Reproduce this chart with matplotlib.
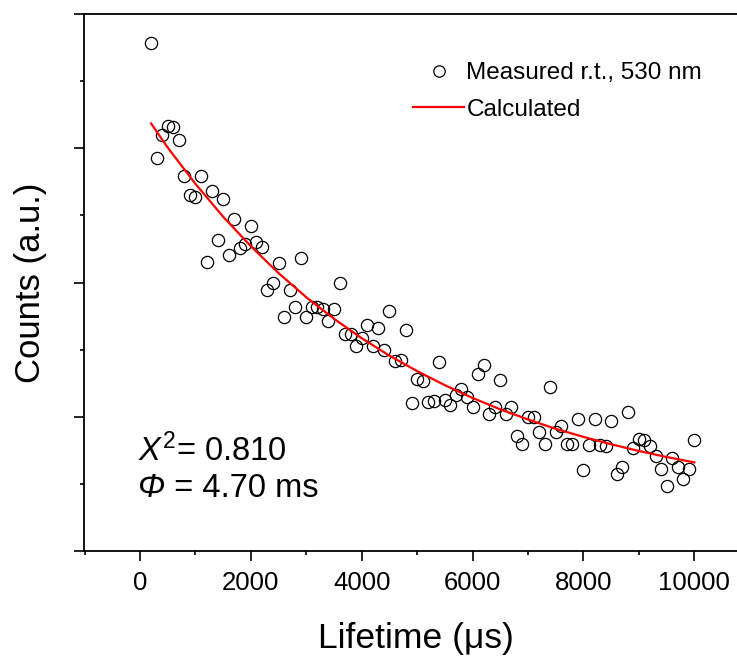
# Lifetime decay plot - measured counts vs calculated curve
# ----------------------------------------------------------------------------------------------------------------------
import matplotlib
matplotlib.use("Agg")
import matplotlib.pyplot as plt
from matplotlib.lines import Line2D
from matplotlib.ticker import MultipleLocator, NullFormatter
# ----------------------------------------------------------------------------------------------------------------------

# Measured points (x in microseconds, y in counts, a.u.)
time_us = list(range(200, 10001, 100))
counts = [
    7.57, 5.86, 6.20, 6.33, 6.32, 6.13, 5.58, 5.30, 5.28, 5.59,   # 200 - 1100
    4.30, 5.37, 4.63, 5.24, 4.41, 4.95, 4.52, 4.57, 4.84, 4.61,   # 1200 - 2100
    4.53, 3.89, 4.00, 4.29, 3.48, 3.89, 3.64, 4.37, 3.49, 3.64,   # 2200 - 3100
    3.63, 3.60, 3.43, 3.61, 3.99, 3.23, 3.23, 3.06, 3.18, 3.36,   # 3200 - 4100
    3.05, 3.32, 3.00, 3.57, 2.83, 2.84, 3.29, 2.21, 2.56, 2.53,   # 4200 - 5100
    2.22, 2.24, 2.81, 2.25, 2.18, 2.33, 2.42, 2.30, 2.15, 2.63,   # 5200 - 6100
    2.77, 2.04, 2.15, 2.55, 2.04, 2.15, 1.72, 1.60, 2.00, 1.99,   # 6200 - 7100
    1.77, 1.59, 2.45, 1.77, 1.86, 1.59, 1.60, 1.96, 1.20, 1.58,   # 7200 - 8100
    1.97, 1.58, 1.56, 1.93, 1.14, 1.25, 2.07, 1.53, 1.67, 1.65,   # 8200 - 9100
    1.57, 1.42, 1.22, 0.97, 1.39, 1.25, 1.07, 1.22, 1.65,         # 9200 - 10000
]

# Calculated curve, every 500 us
fit_time_us = [200, 500, 1000, 1500, 2000, 2500, 3000, 3500, 4000, 4500, 5000,
               5500, 6000, 6500, 7000, 7500, 8000, 8500, 9000, 9500, 10000]
fit_counts = [6.37, 6.01, 5.47, 4.98, 4.54, 4.14, 3.78, 3.46, 3.17, 2.91, 2.68,
              2.47, 2.28, 2.11, 1.96, 1.82, 1.70, 1.59, 1.49, 1.40, 1.32]

x_ticks = [0, 2000, 4000, 6000, 8000, 10000]
chi_text = "= 0.810"
phi_text = " = 4.70 ms"
# ----------------------------------------------------------------------------------------------------------------------

plt.rcParams["font.family"] = ["Liberation Sans", "DejaVu Sans"]
plt.rcParams["mathtext.fontset"] = "custom"
plt.rcParams["mathtext.rm"] = "Liberation Sans"
plt.rcParams["mathtext.it"] = "Liberation Sans:italic"


def plot_data():
    fig = plt.figure(figsize=(7.37, 6.60), dpi=100)
    ax = fig.add_axes([84 / 737, 109 / 660, 653 / 737, 537 / 660])

    ax.plot(time_us, counts, linestyle="none", marker="o", ms=8.8, mfc="none",
            mec="black", mew=0.9, label="Measured r.t., 530 nm")
    ax.plot(fit_time_us, fit_counts, color="red", lw=1.6, label="Calculated")

    # Axes limits / ticks
    ax.set_xlim(-1010, 10770)
    ax.set_ylim(0, 8)
    ax.set_xticks(x_ticks)
    ax.xaxis.set_minor_locator(MultipleLocator(1000))
    ax.yaxis.set_major_locator(MultipleLocator(2))
    ax.yaxis.set_minor_locator(MultipleLocator(1))
    ax.yaxis.set_major_formatter(NullFormatter())
    ax.tick_params(which="major", length=7.2, width=1.2, labelsize=18.5, pad=7)
    ax.tick_params(which="minor", length=3.2, width=1.2)
    ax.spines["right"].set_visible(False)
    for side in ["left", "bottom", "top"]:
        ax.spines[side].set_linewidth(1.3)

    ax.set_xlabel("Lifetime (\u03bcs)", fontsize=25.5)
    ax.set_ylabel("Counts (a.u.)", fontsize=25)
    ax.xaxis.set_label_coords(0.508, -0.132)
    ax.yaxis.set_label_coords(-0.057, 0.5)

    # Fit results
    ax.text(0.083, 0.168, r"$X^{2}$" + chi_text, transform=ax.transAxes, fontsize=23.5, va="baseline")
    phi = ax.text(0.083, 0.100, "\u03a6", transform=ax.transAxes, fontsize=23.5, va="baseline",
                  style="italic")
    ax.annotate(phi_text, xy=(1, 0), xycoords=phi, fontsize=23.5, va="bottom")

    handles = [
        Line2D([], [], linestyle="none", marker="o", ms=8.2, mfc="none", mec="black", mew=0.9),
        Line2D([], [], color="red", lw=1.6),
    ]
    fig.legend(handles, ["Measured r.t., 530 nm", "Calculated"], loc="upper left",
               bbox_to_anchor=(413 / 737, 1 - 62 / 660), frameon=False, fontsize=17.5,
               handlelength=2.1, handletextpad=0.1, borderpad=0, borderaxespad=0,
               labelspacing=0.6, numpoints=1)

    fig.savefig("out.png", dpi=100)


# ----------------------------------------------------------------------------------------------------------------------
if __name__ == "__main__":
    plot_data()
